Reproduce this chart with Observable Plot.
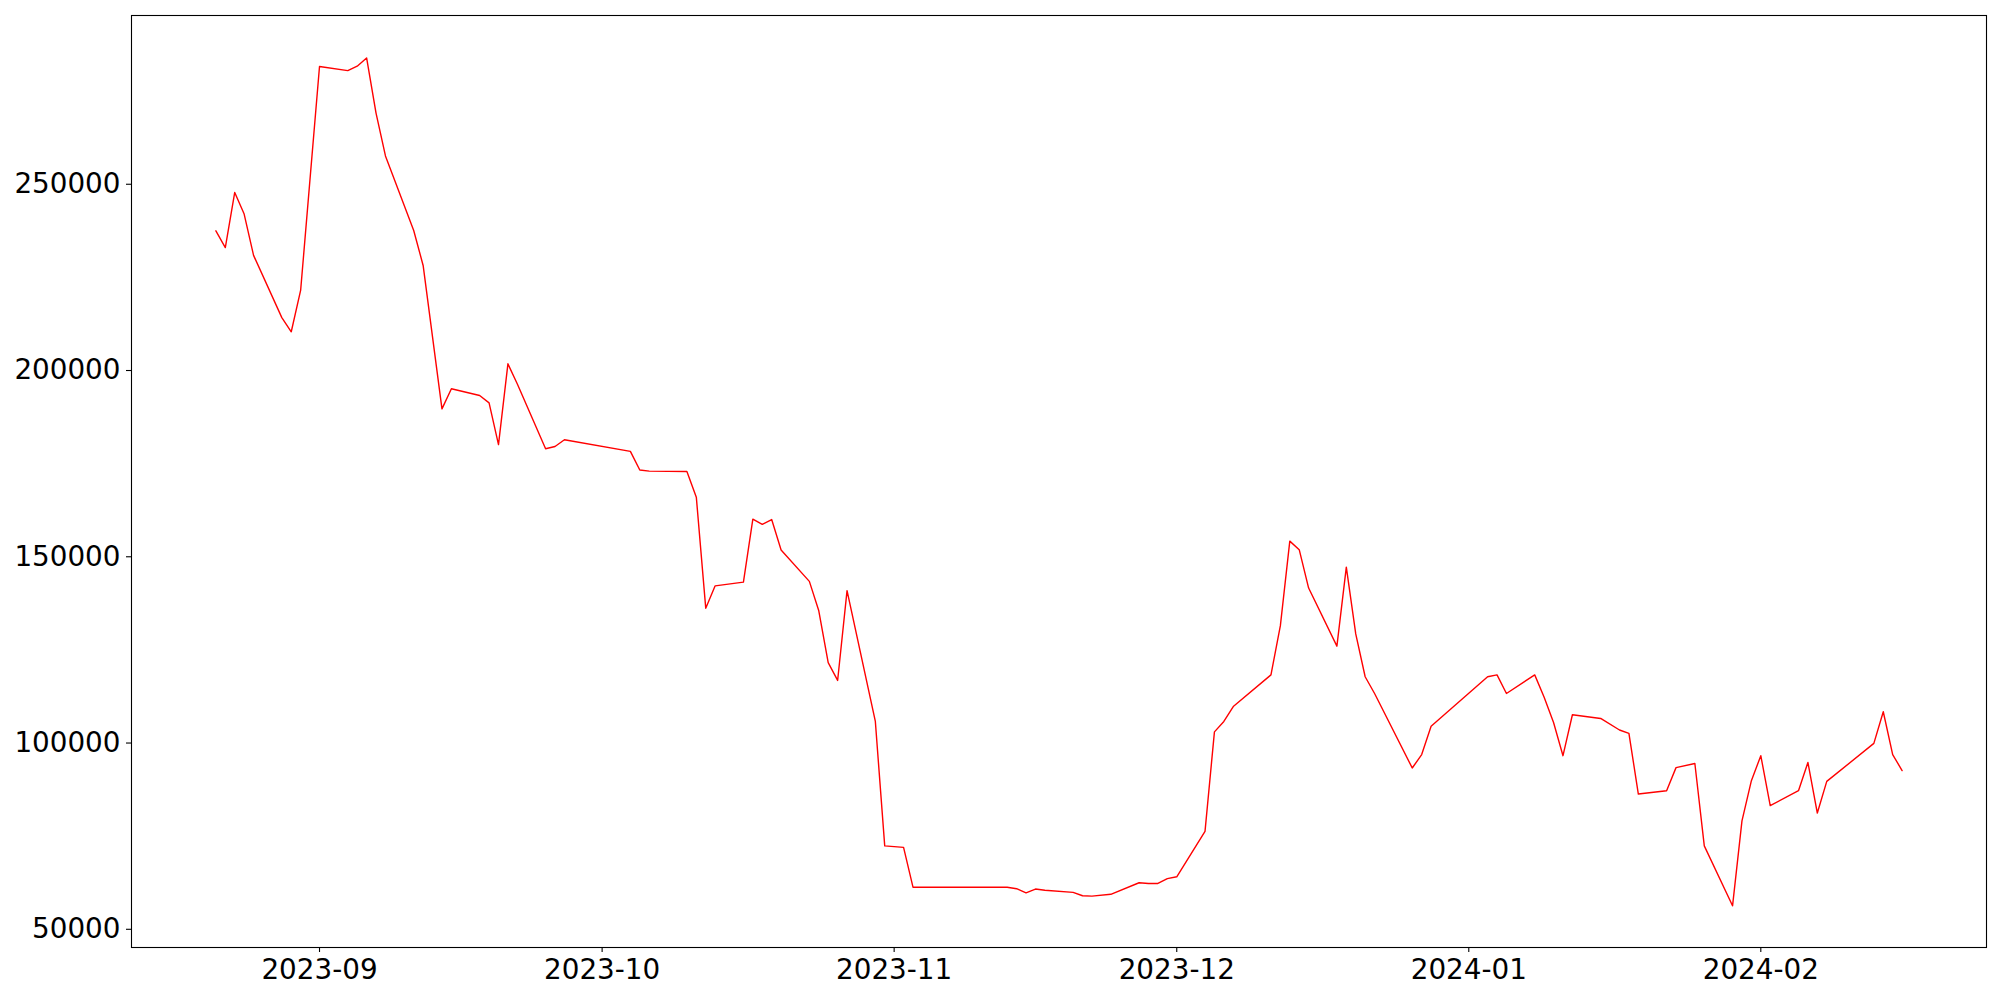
<!DOCTYPE html>
<html>
<head>
<meta charset="utf-8">
<script src="https://cdn.jsdelivr.net/npm/d3@7"></script>
<script src="https://cdn.jsdelivr.net/npm/@observablehq/plot@0.6"></script>
<style>
  html, body { margin: 0; padding: 0; background: #ffffff; }
  #chart svg { display: block; }
</style>
</head>
<body>
<div id="chart"></div>
<script>
const dates = [
  "2023-08-21","2023-08-22","2023-08-23","2023-08-24","2023-08-25",
  "2023-08-28","2023-08-29","2023-08-30","2023-09-01",
  "2023-09-04","2023-09-05","2023-09-06","2023-09-07","2023-09-08",
  "2023-09-11","2023-09-12","2023-09-14","2023-09-15",
  "2023-09-18","2023-09-19","2023-09-20","2023-09-21","2023-09-22",
  "2023-09-25","2023-09-26","2023-09-27",
  "2023-10-04","2023-10-05","2023-10-06",
  "2023-10-10","2023-10-11","2023-10-12","2023-10-13",
  "2023-10-16","2023-10-17","2023-10-18","2023-10-19","2023-10-20",
  "2023-10-23","2023-10-24","2023-10-25","2023-10-26","2023-10-27",
  "2023-10-30","2023-10-31","2023-11-02","2023-11-03",
  "2023-11-13","2023-11-14","2023-11-15","2023-11-16","2023-11-17",
  "2023-11-20","2023-11-21","2023-11-22","2023-11-24",
  "2023-11-27","2023-11-28","2023-11-29","2023-11-30","2023-12-01",
  "2023-12-04","2023-12-05","2023-12-06","2023-12-07",
  "2023-12-11","2023-12-12","2023-12-13","2023-12-14","2023-12-15",
  "2023-12-18","2023-12-19","2023-12-20","2023-12-21","2023-12-22",
  "2023-12-26","2023-12-27","2023-12-28",
  "2024-01-03","2024-01-04","2024-01-05",
  "2024-01-08","2024-01-09","2024-01-10","2024-01-11","2024-01-12",
  "2024-01-15","2024-01-17","2024-01-18","2024-01-19",
  "2024-01-22","2024-01-23","2024-01-25","2024-01-26",
  "2024-01-29","2024-01-30","2024-01-31","2024-02-01","2024-02-02",
  "2024-02-05","2024-02-06","2024-02-07","2024-02-08",
  "2024-02-13","2024-02-14","2024-02-15","2024-02-16"
];
const values = [
  237500, 233000, 247800, 242000, 230900,
  214200, 210400, 221600, 281600,
  280500, 281700, 283900, 269100, 257600,
  237600, 228200, 189700, 195100,
  193300, 191300, 180100, 201800, 196400,
  179000, 179600, 181400,
  178300, 173300, 173000,
  172900, 166000, 136200, 142200,
  143200, 160100, 158700, 160000, 151800,
  143400, 135500, 121600, 116800, 140900,
  105900, 72400, 72000, 61300,
  61300, 60900, 59800, 60800, 60500,
  59900, 59000, 58900, 59400,
  62500, 62300, 62300, 63600, 64100,
  76300, 103000, 105800, 109800,
  118300, 131500, 154200, 151900, 141600,
  126000, 147200, 129300, 117800, 113300,
  93300, 96900, 104500,
  117800, 118300, 113300,
  118300, 112300, 105500, 96600, 107600,
  106600, 103500, 102600, 86300,
  87200, 93400, 94500, 72400,
  56300, 79100, 89900, 96600, 83200,
  87200, 94800, 81200, 89700,
  99900, 108400, 96900, 92600
];
const xTickLabels = ["2023-09","2023-10","2023-11","2023-12","2024-01","2024-02"];
const yTickValues = [50000, 100000, 150000, 200000, 250000];

const data = dates.map((d, i) => ({ date: new Date(d + "T00:00:00Z"), value: values[i] }));
const xTicks = xTickLabels.map(s => new Date(s + "-01T00:00:00Z"));

const chart = Plot.plot({
  width: 2000,
  height: 1000,
  marginLeft: 131,
  marginRight: 14,
  marginTop: 15,
  marginBottom: 53,
  style: { fontFamily: "DejaVu Sans", fontSize: "27.8px", background: "#ffffff", color: "#000000" },
  x: { type: "utc", domain: [new Date("2023-08-12T01:00:00Z"), new Date("2024-02-24T23:00:00Z")] },
  y: { domain: [45113, 295300] },
  marks: [
    Plot.line(data, { x: "date", y: "value", stroke: "red", strokeWidth: 1.4 }),
    Plot.frame({ stroke: "#000000", strokeWidth: 1.1 }),
    Plot.axisX({ ticks: xTicks, tickFormat: d3.utcFormat("%Y-%m"), tickSize: 5, tickPadding: 6.5, fontSize: 27.8, label: null, strokeWidth: 1.1 }),
    Plot.axisY({ ticks: yTickValues, tickFormat: d => String(d), tickSize: 5, tickPadding: 6, fontSize: 27.8, label: null, strokeWidth: 1.1 })
  ]
});
document.getElementById("chart").appendChild(chart);
</script>
</body>
</html>
